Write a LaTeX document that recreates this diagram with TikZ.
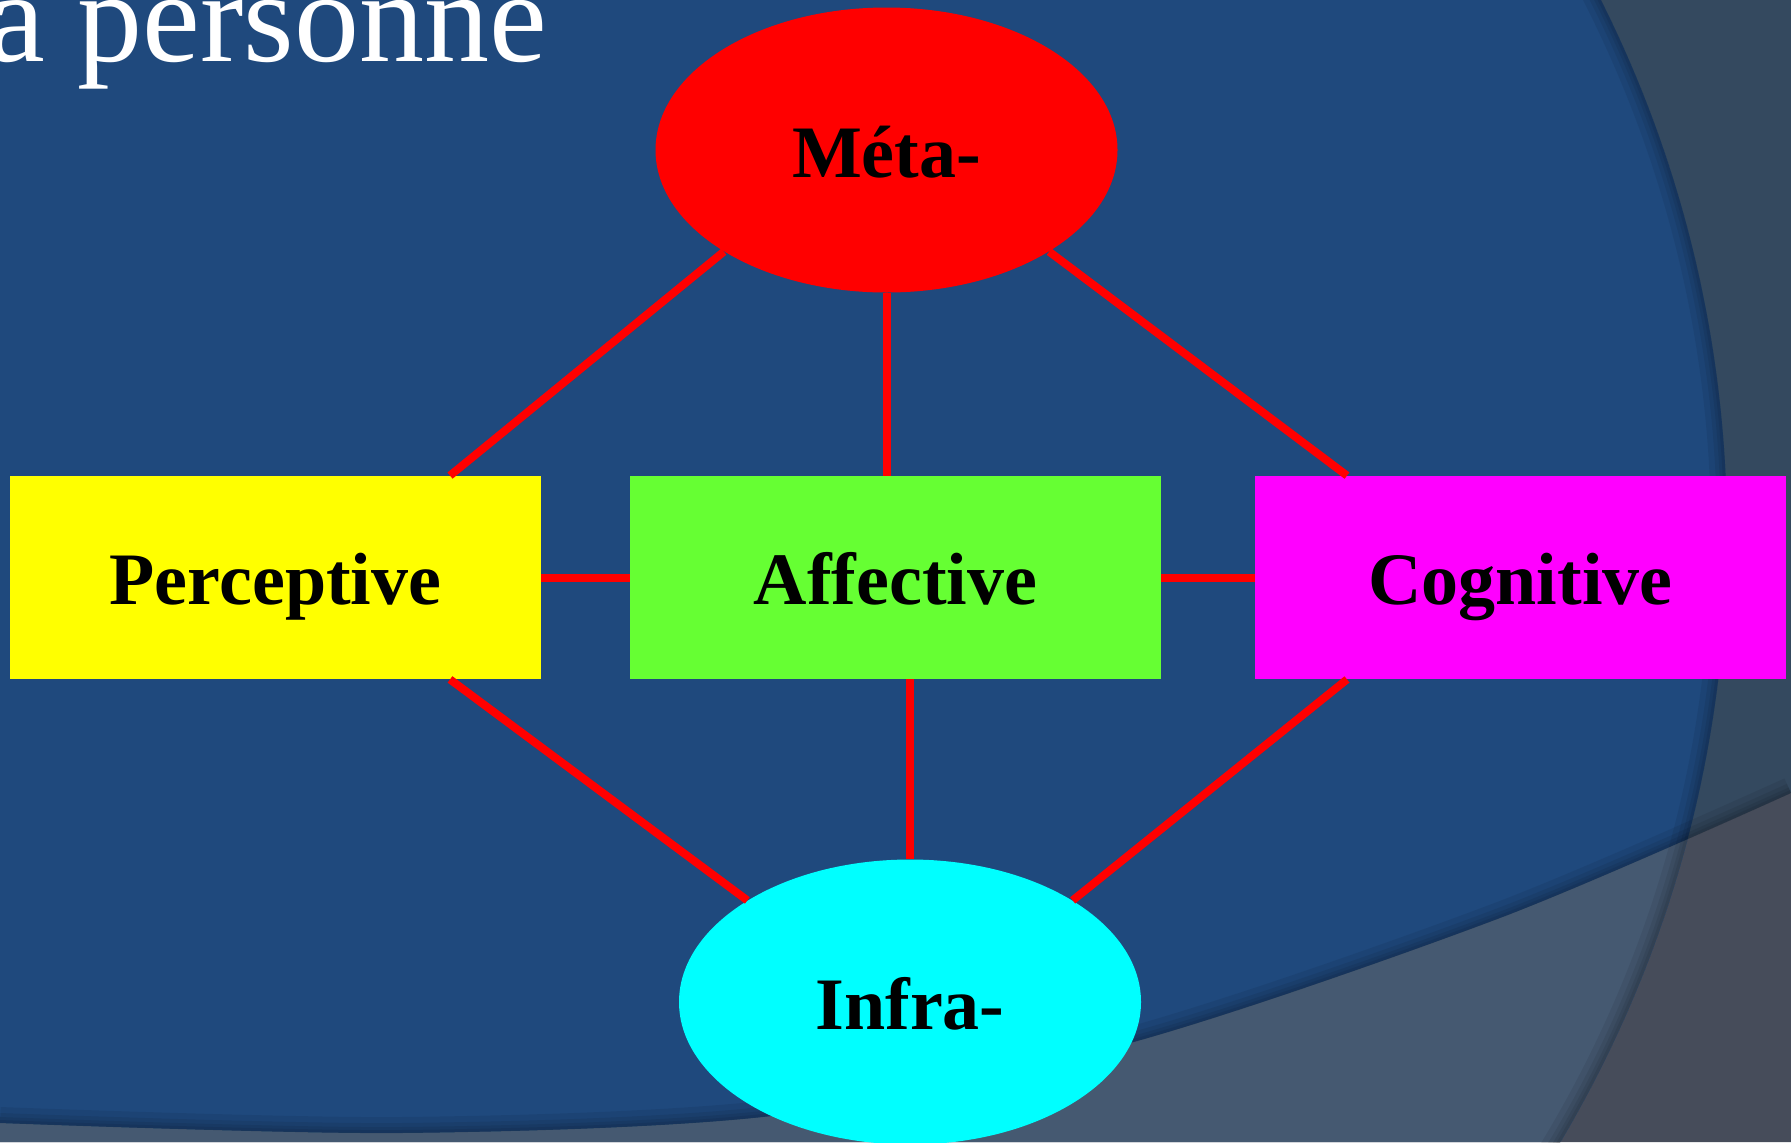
\documentclass[tikz,border=0pt]{standalone}
\usepackage{fontspec}
\setmainfont{Liberation Serif}
\usetikzlibrary{shapes.geometric}
\definecolor{bgblue}{HTML}{1F497D}
\definecolor{bgslate}{HTML}{34495F}
\definecolor{bglight}{HTML}{455971}
\definecolor{bgdark}{HTML}{464C5A}
\definecolor{linkred}{HTML}{FF0000}
\definecolor{cmeta}{HTML}{FF0000}
\definecolor{cperc}{HTML}{FFFF00}
\definecolor{caff}{HTML}{66FF33}
\definecolor{ccogn}{HTML}{FF00FF}
\definecolor{cinfra}{HTML}{00FFFF}
\begin{document}
\begin{tikzpicture}[x=0.5pt,y=-0.5pt,
  lnk/.style={draw=linkred, line width=4pt},
  lbl/.style={font=\fontsize{37pt}{40pt}\selectfont\bfseries, text=black, text height=27pt, text depth=0pt, inner sep=0pt},
  oval/.style={ellipse, lbl, minimum width=231pt, minimum height=142.5pt},
  box/.style={rectangle, lbl, minimum width=265.5pt, minimum height=101.5pt},
  shade/.style={draw=black, opacity=0.07}]
\useasboundingbox (0,0) rectangle (1791,1142);
\clip (0,0) rectangle (1791,1142);
% background
\fill[bgslate] (0,0) rectangle (1791,1142);
\fill[bgdark] plot[smooth] coordinates {(0,1123) (400,1133) (780,1115) (1130,1043) (1500,918) (1791,793)} -- (1791,1142) -- (0,1142) -- cycle;
\begin{scope}
  \clip (536,534) circle[radius=595.5pt];
  \fill[bgblue] (0,0) rectangle (1791,1142);
  \fill[bglight] plot[smooth] coordinates {(0,1123) (400,1133) (780,1115) (1130,1043) (1500,918) (1791,793)} -- (1791,1142) -- (0,1142) -- cycle;
  \foreach \w in {16pt,10pt,6pt,3pt}
    \draw[shade, line width=\w] (536,534) circle[radius=595.5pt];
\end{scope}
\begin{scope}
  \clip (0,0) -- (1791,0) -- (1791,793) -- plot[smooth] coordinates {(1791,793) (1500,918) (1130,1043) (780,1115) (400,1133) (0,1123)} -- cycle;
  \foreach \w in {16pt,10pt,6pt,3pt}
    \draw[shade, line width=\w] plot[smooth] coordinates {(0,1123) (400,1133) (780,1115) (1130,1043) (1500,918) (1791,793)};
\end{scope}
% title
\node[anchor=base west, inner sep=0pt, text=white, font=\fontsize{65pt}{72pt}\selectfont] (title) at (-13,61) {a personne};
% nodes
\node[oval, fill=cmeta] (meta) at (886.5,150) {Méta-};
\node[box, fill=cperc] (perc) at (275.5,577.5) {Perceptive};
\node[box, fill=caff] (aff) at (895.5,577.5) {Affective};
\node[box, fill=ccogn] (cogn) at (1520.5,577.5) {Cognitive};
\node[oval, fill=cinfra] (infra) at (910,1002) {Infra-};
% connectors
\draw[lnk] ([xshift=87.25pt]perc.north) -- (meta.212);
\draw[lnk] ([xshift=-86.75pt]cogn.north) -- (meta.328);
\draw[lnk] (meta.south) -- (meta.south |- aff.north);
\draw[lnk] (perc.east) -- (aff.west);
\draw[lnk] (aff.east) -- (cogn.west);
\draw[lnk] ([xshift=87.25pt]perc.south) -- (infra.148);
\draw[lnk] ([xshift=-86.75pt]cogn.south) -- (infra.32);
\draw[lnk] (infra.north |- aff.south) -- (infra.north);
\end{tikzpicture}
\end{document}
